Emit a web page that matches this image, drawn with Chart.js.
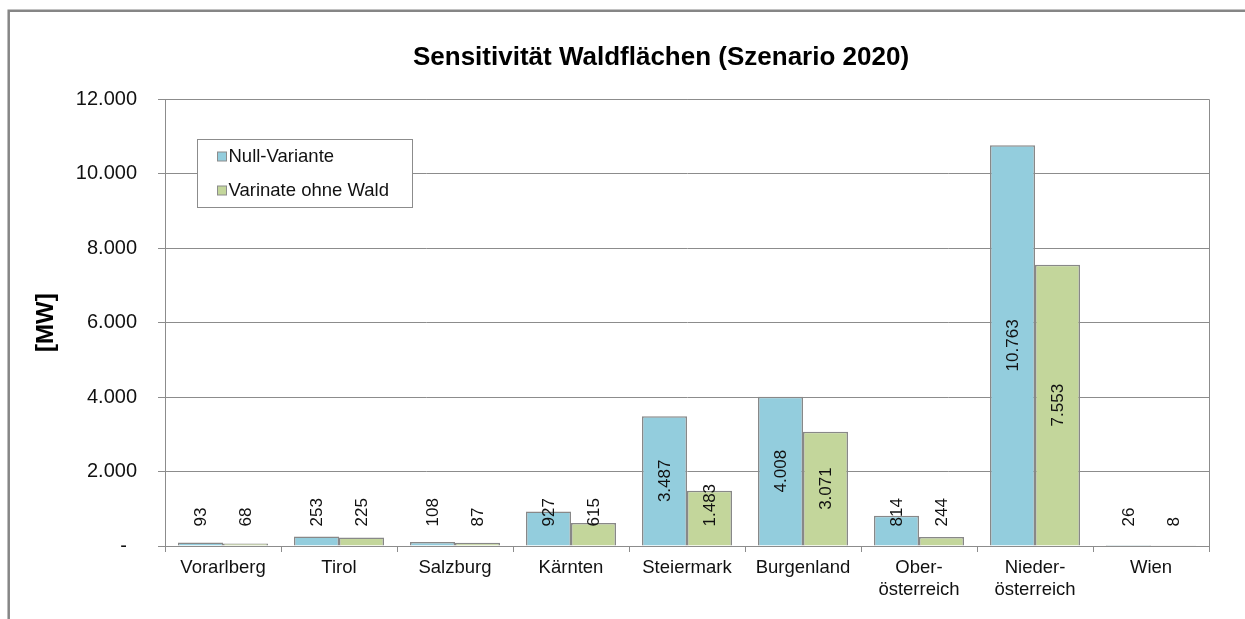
<!DOCTYPE html>
<html><head><meta charset="utf-8">
<script src="https://cdn.jsdelivr.net/npm/chart.js@4/dist/chart.umd.min.js"></script>
<style>html,body{margin:0;padding:0;background:#fff;}canvas{display:block;}</style>
</head><body>
<canvas id="c" width="1245" height="619"></canvas>
<script>
const categories = ['Vorarlberg','Tirol','Salzburg','Kärnten','Steiermark','Burgenland',['Ober-','österreich'],['Nieder-','österreich'],'Wien'];
const seriesNames = ['Null-Variante','Varinate ohne Wald'];
const nullVariante = [93,253,108,927,3487,4008,814,10763,26];
const ohneWald = [68,225,87,615,1483,3071,244,7553,8];
const yTicks = [0,2000,4000,6000,8000,10000,12000];
const titleText = 'Sensitivität Waldflächen (Szenario 2020)';
const yTitle = '[MW]';

const FONT = "'Liberation Sans', Arial, sans-serif";
const TEXT = '#111';
const GRID = '#8c8c8c';
const COLORS = ['#93CDDD', '#C3D69B'];

function fmt(v){ return String(Math.round(v)).replace(/\B(?=(\d{3})+(?!\d))/g,'.'); }

const framePlugin = {
  id:'frame',
  beforeDraw(chart){
    const ctx = chart.ctx;
    ctx.save();
    ctx.strokeStyle = '#868686';
    ctx.lineWidth = 2.5;
    ctx.beginPath();
    ctx.moveTo(8.7, 619); ctx.lineTo(8.7, 10.7); ctx.lineTo(1245, 10.7);
    ctx.stroke();
    ctx.restore();
  },
  afterDatasetsDraw(chart){
    const ctx = chart.ctx, a = chart.chartArea;
    ctx.save();
    ctx.strokeStyle = GRID; ctx.lineWidth = 1;
    ctx.beginPath();
    ctx.moveTo(Math.round(a.left)+0.5, Math.round(a.top)+0.5);
    ctx.lineTo(Math.round(a.right)+0.5, Math.round(a.top)+0.5);
    ctx.lineTo(Math.round(a.right)+0.5, Math.round(a.bottom)+0.5);
    ctx.stroke();
    ctx.restore();
  }
};

const labelPlugin = {
  id:'vlabels',
  afterDatasetsDraw(chart){
    const ctx = chart.ctx;
    ctx.save();
    ctx.font = `17px ${FONT}`;
    ctx.fillStyle = TEXT;
    ctx.textAlign = 'center'; ctx.textBaseline = 'middle';
    chart.data.datasets.forEach((ds, di) => {
      const meta = chart.getDatasetMeta(di);
      meta.data.forEach((el, i) => {
        const txt = fmt(ds.data[i]);
        const L = ctx.measureText(txt).width;
        let cy = (el.y + el.base) / 2;
        const maxBottom = el.base - 19;
        if (cy + L/2 > maxBottom) cy = maxBottom - L/2;
        ctx.save();
        ctx.translate(el.x + 1, cy);
        ctx.rotate(-Math.PI/2);
        ctx.fillText(txt, 0, 0);
        ctx.restore();
      });
    });
    ctx.restore();
  }
};

const legendPlugin = {
  id:'boxLegend',
  afterDraw(chart){
    const ctx = chart.ctx, a = chart.chartArea;
    const x0 = Math.round(a.left + 32) + 0.5, y0 = Math.round(a.top + 40) + 0.5, w = 215, h = 68;
    ctx.save();
    ctx.fillStyle = '#fff';
    ctx.fillRect(x0, y0, w, h);
    ctx.strokeStyle = GRID; ctx.lineWidth = 1;
    ctx.strokeRect(x0, y0, w, h);
    ctx.font = `18.5px ${FONT}`;
    ctx.textAlign = 'left'; ctx.textBaseline = 'middle';
    chart.data.datasets.forEach((ds, i) => {
      const cy = y0 + 17 + i * 34;
      ctx.fillStyle = ds.backgroundColor;
      ctx.fillRect(x0 + 20, cy - 4.5, 9, 9);
      ctx.strokeStyle = GRID;
      ctx.strokeRect(x0 + 20, cy - 4.5, 9, 9);
      ctx.fillStyle = TEXT;
      ctx.fillText(ds.label, x0 + 31, cy);
    });
    ctx.restore();
  }
};

new Chart(document.getElementById('c'), {
  type: 'bar',
  data: {
    labels: categories,
    datasets: [
      { label: seriesNames[0], data: nullVariante, backgroundColor: COLORS[0], borderColor: '#888', borderWidth: 1.5 },
      { label: seriesNames[1], data: ohneWald, backgroundColor: COLORS[1], borderColor: '#888', borderWidth: 1.5 }
    ]
  },
  options: {
    responsive: false,
    animation: false,
    layout: { padding: { left: 0, right: -77, top: 0, bottom: 0 } },
    datasets: { bar: { categoryPercentage: 0.776, barPercentage: 1.0 } },
    plugins: {
      legend: { display: false },
      tooltip: { enabled: false },
      title: {
        display: true, text: titleText, color: '#000',
        font: { family: FONT, size: 26, weight: 'bold' },
        padding: { top: 42, bottom: 26 }
      }
    },
    scales: {
      x: {
        offset: true,
        grid: { display: true, drawOnChartArea: false, drawTicks: true, tickLength: 6, offset: true, color: GRID },
        border: { display: true, color: GRID, width: 1 },
        ticks: { color: TEXT, font: { family: FONT, size: 18.5 }, padding: 5, maxRotation: 0, autoSkip: false },
        afterFit: s => { s.height = 73; }
      },
      y: {
        min: 0, max: 12000,
        afterBuildTicks: s => { s.ticks = yTicks.map(v => ({ value: v })); },
        grid: { color: GRID, tickLength: 7, drawTicks: true },
        border: { display: true, color: GRID, width: 1 },
        ticks: {
          color: TEXT, font: { family: FONT, size: 20 }, padding: 21,
          callback: v => v === 0 ? '-\u2002' : fmt(v)
        },
        title: {
          display: true, text: yTitle, color: '#000',
          font: { family: FONT, size: 24, weight: 'bold' },
          padding: { top: 32, bottom: 0 }
        },
        afterFit: s => { s.width = 165; }
      },
      yRight: {
        position: 'right',
        min: 0, max: 12000,
        grid: { display: false, drawTicks: false },
        border: { display: false },
        ticks: { display: false },
        afterFit: s => { s.width = 113; }
      }
    }
  },
  plugins: [framePlugin, labelPlugin, legendPlugin]
});
</script>
</body></html>
